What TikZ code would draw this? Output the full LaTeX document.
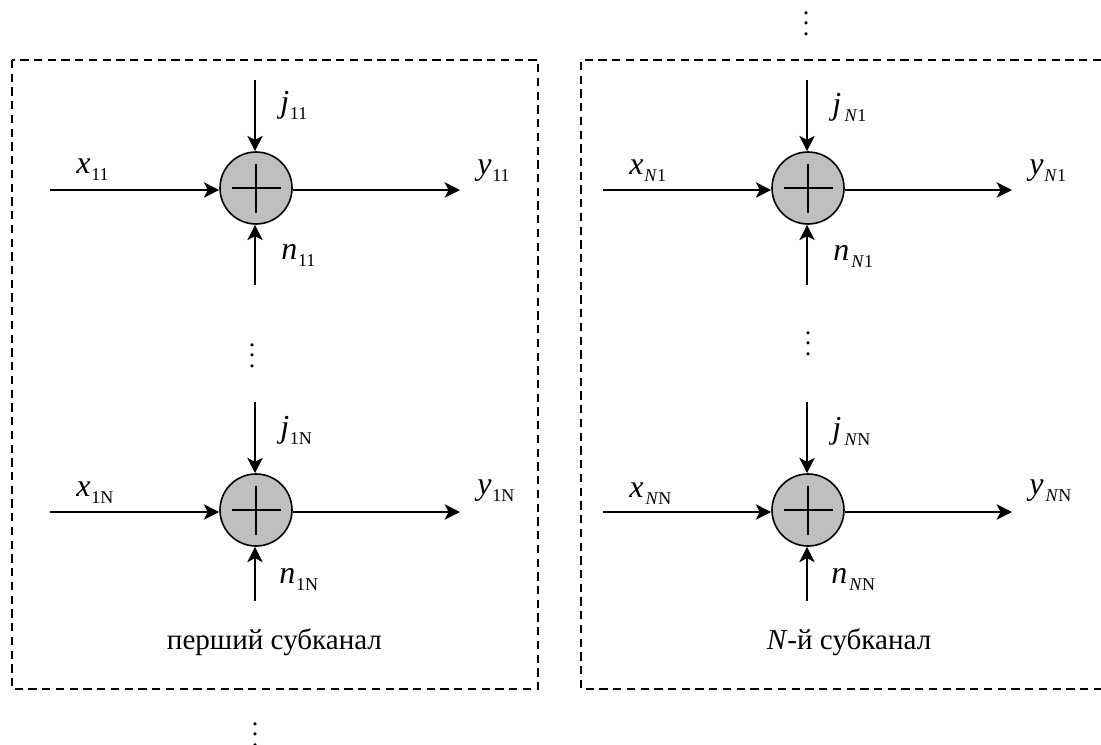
\documentclass[tikz,border=0pt]{standalone}
\usepackage{fontspec}
\setmainfont{Liberation Serif}
\usetikzlibrary{arrows.meta}
\definecolor{sumgray}{HTML}{BFBFBF}
\newcommand{\sig}[2]{\textit{#1}\kern0.6pt\raisebox{-0.5ex}{\fontsize{13.5}{13.5}\selectfont #2}}
\newcommand{\subN}{\textit{N}}
\tikzset{
  signal/.style={line width=1.25pt, -{Stealth[length=11.5pt, width=11.5pt, inset=3pt]}},
  drop/.style={line width=1.05pt, -{Stealth[length=11.5pt, width=11.5pt, inset=3pt]}},
  panel/.style={line width=1.1pt, dash pattern=on 6.2pt off 4.1pt},
  adder/.style={circle, draw, fill=sumgray, line width=1.2pt, minimum size=54pt, inner sep=0pt},
  cross/.style={line width=1pt},
  label/.style={inner sep=0pt, anchor=base west, font=\fontsize{24}{26}\selectfont},
  caption/.style={inner sep=0pt, anchor=base, font=\fontsize{21.8}{24}\selectfont},
  dotsmark/.style={inner sep=0pt, scale=1.95}
}
\begin{document}
\begin{tikzpicture}[x=0.75pt, y=-0.75pt]
  \useasboundingbox (0,0) rectangle (1101,744);

  %% dashed frames of the two subchannels
  \draw[panel] (12,60) rectangle (538,689);
  \draw[panel] (1101,60) -- (581,60) -- (581,689) -- (1101,689);

  %% ==== first subchannel, upper adder ====
  \begin{scope}[shift={(256,188)}]
    \node[adder] (sum) at (0,0) {};
    \draw[cross] (-24.5,0) -- (24.5,0);
    \draw[cross] (0,-24.5) -- (0,24.5);
    \coordinate (in) at (-206,2);
    \coordinate (out) at (204,2);
    \coordinate (top) at (-1,-108);
    \coordinate (bot) at (-1,97);
    \draw[signal] (in) -- (in -| sum.west);
    \draw[signal] (in -| sum.east) -- (out);
    \draw[drop] (top) -- (top |- sum.north);
    \draw[drop] (bot) -- (bot |- sum.south);
    \node[label] (xl) at (-180,-15) {\sig{x}{11}};
    \node[label] (yl) at (221,-14) {\sig{y}{11}};
    \node[label] (jl) at (24,-75.5) {\sig{j}{11}};
    \node[label] (nl) at (25,71) {\sig{n}{11}};
  \end{scope}

  \node[dotsmark] (dotsa) at (252,348) {$\vdots$};

  %% ==== first subchannel, lower adder ====
  \begin{scope}[shift={(256,510)}]
    \node[adder] (sum) at (0,0) {};
    \draw[cross] (-24.5,0) -- (24.5,0);
    \draw[cross] (0,-24.5) -- (0,24.5);
    \coordinate (in) at (-206,2);
    \coordinate (out) at (204,2);
    \coordinate (top) at (-1,-108);
    \coordinate (bot) at (-1,91);
    \draw[signal] (in) -- (in -| sum.west);
    \draw[signal] (in -| sum.east) -- (out);
    \draw[drop] (top) -- (top |- sum.north);
    \draw[drop] (bot) -- (bot |- sum.south);
    \node[label] (xl) at (-180,-13.5) {\sig{x}{1N}};
    \node[label] (yl) at (221,-16) {\sig{y}{1N}};
    \node[label] (jl) at (24,-72.5) {\sig{j}{1N}};
    \node[label] (nl) at (23,73) {\sig{n}{1N}};
  \end{scope}

  \node[caption] (capa) at (274.5,649) {перший субканал};
  \node[dotsmark] (dotsb) at (255,727) {$\vdots$};

  %% ==== N-th subchannel, upper adder ====
  \begin{scope}[shift={(808,188)}]
    \node[adder] (sum) at (0,0) {};
    \draw[cross] (-24.5,0) -- (24.5,0);
    \draw[cross] (0,-24.5) -- (0,24.5);
    \coordinate (in) at (-205,2);
    \coordinate (out) at (204,2);
    \coordinate (top) at (-1,-108);
    \coordinate (bot) at (-1,97);
    \draw[signal] (in) -- (in -| sum.west);
    \draw[signal] (in -| sum.east) -- (out);
    \draw[drop] (top) -- (top |- sum.north);
    \draw[drop] (bot) -- (bot |- sum.south);
    \node[label] (xl) at (-179,-13.5) {\sig{x}{\subN 1}};
    \node[label] (yl) at (221,-13.5) {\sig{y}{\subN 1}};
    \node[label] (jl) at (24,-73.5) {\sig{j}{\kern2pt\subN 1}};
    \node[label] (nl) at (25,72.5) {\sig{n}{\kern1pt\subN 1}};
  \end{scope}

  \node[dotsmark] (dotsc) at (806,16) {$\vdots$};
  \node[dotsmark] (dotsd) at (808,336) {$\vdots$};

  %% ==== N-th subchannel, lower adder ====
  \begin{scope}[shift={(808,510)}]
    \node[adder] (sum) at (0,0) {};
    \draw[cross] (-24.5,0) -- (24.5,0);
    \draw[cross] (0,-24.5) -- (0,24.5);
    \coordinate (in) at (-205,2);
    \coordinate (out) at (204,2);
    \coordinate (top) at (-1,-108);
    \coordinate (bot) at (-1,91);
    \draw[signal] (in) -- (in -| sum.west);
    \draw[signal] (in -| sum.east) -- (out);
    \draw[drop] (top) -- (top |- sum.north);
    \draw[drop] (bot) -- (bot |- sum.south);
    \node[label] (xl) at (-179,-13) {\sig{x}{\kern1pt\subN N}};
    \node[label] (yl) at (221,-16) {\sig{y}{\kern1pt\subN N}};
    \node[label] (jl) at (24,-72) {\sig{j}{\kern2pt\subN N}};
    \node[label] (nl) at (23,73) {\sig{n}{\kern1pt\subN N}};
  \end{scope}

  \node[caption] (capb) at (849,649) {\textit{N}-й субканал};

\end{tikzpicture}
\end{document}
